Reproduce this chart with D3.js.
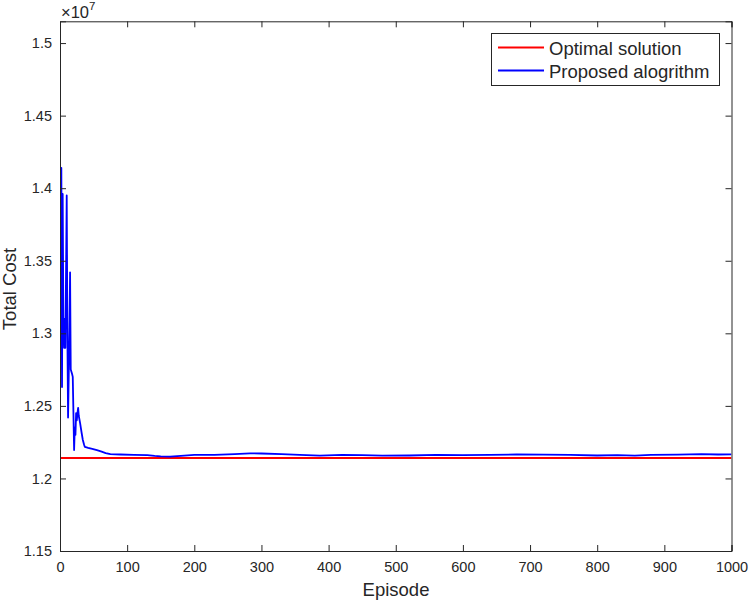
<!DOCTYPE html>
<html><head><meta charset="utf-8">
<script src="https://cdn.jsdelivr.net/npm/d3@7"></script>
<style>body{margin:0;background:#fff}svg{display:block}text{font-family:"Liberation Sans",Arial,Helvetica,sans-serif;fill:#262626}</style>
</head><body>
<svg id="c" width="749" height="601"></svg>
<script>
const xTicks = [0,100,200,300,400,500,600,700,800,900,1000];
const yTicks = [1.15,1.2,1.25,1.3,1.35,1.4,1.45,1.5];
const yTickLabels = ["1.15","1.2","1.25","1.3","1.35","1.4","1.45","1.5"];
const optimalValue = 1.2141;
const episodes = [1,2,3,4,5,6,7,8,10,11,12,14,15,16,18,19,21,22,23,24,25,26,27,28,30,32,34,36,37,42,48,55,62,68,75,90,110,130,141,150,164,180,200,230,260,283,300,330,357,387,420,450,480,520,560,600,640,680,720,760,800,830,856,880,920,955,980,1000];
const proposed = [1.325,1.414,1.263,1.396,1.31,1.29,1.31,1.29,1.395,1.30,1.242,1.30,1.342,1.275,1.272,1.27,1.2196,1.235,1.23,1.245,1.24,1.245,1.2486,1.243,1.238,1.232,1.2265,1.223,1.2217,1.221,1.2203,1.2195,1.2185,1.2175,1.2168,1.2165,1.2162,1.216,1.2155,1.2152,1.215,1.2155,1.2162,1.2163,1.2168,1.2173,1.2172,1.2168,1.2162,1.2157,1.2162,1.216,1.2157,1.2158,1.2162,1.216,1.2162,1.2165,1.2164,1.2162,1.2158,1.216,1.2157,1.2162,1.2164,1.2168,1.2165,1.2166];
const legendLabels = ["Optimal solution","Proposed alogrithm"];

const svg = d3.select("#c");
const L=60,R=731.5,T=21.3,B=551;
const x = d3.scaleLinear().domain([0,1000]).range([L,R]);
const y = d3.scaleLinear().domain([1.15,1.515]).range([B,T]);
const axisColor="#262626";

svg.append("clipPath").attr("id","clp").append("rect").attr("x",L).attr("y",T).attr("width",R-L).attr("height",B-T);

const g = svg.append("g").attr("clip-path","url(#clp)");
g.append("line").attr("x1",x(0)).attr("x2",x(1000)).attr("y1",y(optimalValue)).attr("y2",y(optimalValue))
  .attr("stroke","#ff0000").attr("stroke-width",1.8);
const data = episodes.map((e,i)=>[e,proposed[i]]);
g.append("path").datum(data).attr("fill","none").attr("stroke","#0000ff").attr("stroke-width",1.8)
  .attr("stroke-linejoin","round")
  .attr("d",d3.line().x(d=>x(d[0])).y(d=>y(d[1])));

const fs = 14.5;
const xb = svg.append("g").attr("transform",`translate(0,${B})`)
  .call(d3.axisBottom(x).tickValues(xTicks).tickSize(-6).tickPadding(11).tickFormat(d3.format("d")));
const xt = svg.append("g").attr("transform",`translate(0,${T})`)
  .call(d3.axisTop(x).tickValues(xTicks).tickSize(-6).tickFormat(""));
const yl = svg.append("g").attr("transform",`translate(${L},0)`)
  .call(d3.axisLeft(y).tickValues(yTicks).tickSize(-6).tickPadding(8).tickFormat((d,i)=>yTickLabels[i]));
const yr = svg.append("g").attr("transform",`translate(${R},0)`)
  .call(d3.axisRight(y).tickValues(yTicks).tickSize(-6).tickFormat(""));
[xb,xt,yl,yr].forEach(a=>{
  a.select(".domain").attr("stroke",axisColor).attr("stroke-width",1);
  a.selectAll(".tick line").attr("stroke",axisColor).attr("stroke-width",1);
  a.selectAll("text").attr("fill",axisColor).style("font-size",fs+"px").style("font-family","'Liberation Sans',Arial,sans-serif");
});

const ex = svg.append("text").attr("x",61).attr("y",18).style("font-size","16.5px");
ex.append("tspan").text("×10");
ex.append("tspan").attr("dy",-8).style("font-size","11.5px").text("7");

svg.append("text").attr("x",396).attr("y",596).attr("text-anchor","middle").style("font-size","18.5px").text("Episode");
svg.append("text").attr("transform",`translate(16,289) rotate(-90)`).attr("text-anchor","middle").style("font-size","18.5px").text("Total Cost");

const lg = svg.append("g");
lg.append("rect").attr("x",491.5).attr("y",33.5).attr("width",228).attr("height",52)
  .attr("fill","#fff").attr("stroke",axisColor).attr("stroke-width",1);
const colors=["#ff0000","#0000ff"];
legendLabels.forEach((t,i)=>{
  const yy = 47.5 + i*23;
  lg.append("line").attr("x1",498).attr("x2",544).attr("y1",yy).attr("y2",yy).attr("stroke",colors[i]).attr("stroke-width",1.8);
  lg.append("text").attr("x",549).attr("y",yy+7).style("font-size","18.5px").text(t);
});
</script>
</body></html>
